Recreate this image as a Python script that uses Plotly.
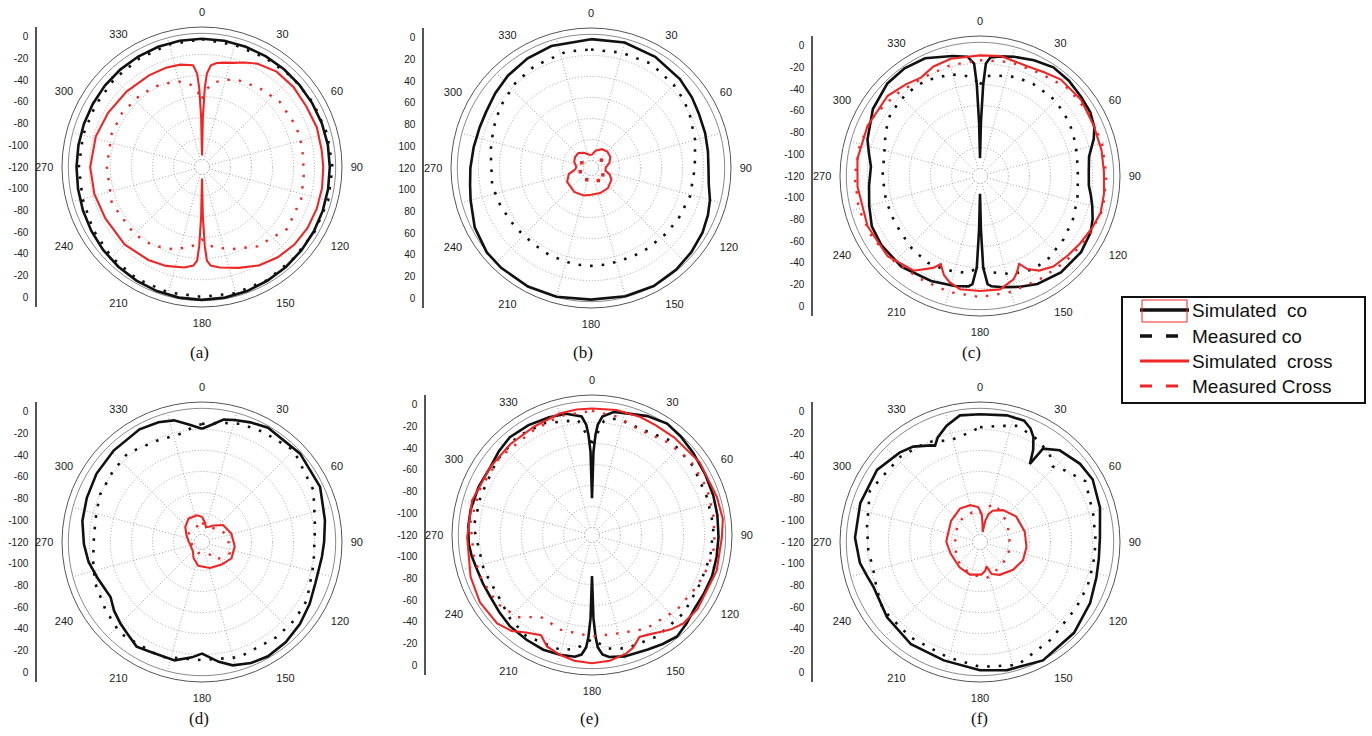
import plotly.graph_objects as go

W, H = 1372, 736
R = 140  # outer radius of every polar frame, px

# ---------------- labels ----------------
angle_ticks = list(range(0, 360, 30))
angle_labels = [str(a) for a in angle_ticks]
left_labels_neg = ["0", "-20", "-40", "-60", "-80", "-100", "-120", "-100", "-80", "-60", "-40", "-20", "0"]
left_labels_pos = ["0", "20", "40", "60", "80", "100", "120", "100", "80", "60", "40", "20", "0"]
left_labels_f = ["0", "-20", "-40", "-60", "-80", "- 100", "- 120", "- 100", "-80", "-60", "-40", "-20", "0"]
captions = ["(a)", "(b)", "(c)", "(d)", "(e)", "(f)"]
legend_names = ["Simulated\u00a0 co", "Measured co", "Simulated\u00a0 cross", "Measured Cross"]

# ---------------- data: (angle deg, level dB) ----------------
a_sim_co = [(0, -2.6), (10, -2.6), (20, -2.7), (30, -2.8), (40, -2.9), (50, -3.0), (60, -3.0), (70, -2.9),
            (80, -2.8), (90, -2.8), (100, -2.7), (110, -2.5), (120, -2.2), (130, -1.9), (140, -1.5), (150, -1.2),
            (160, -0.8), (170, -0.5), (180, -0.4), (190, -0.5), (200, -0.8), (210, -1.2), (220, -1.7), (230, -2.2),
            (240, -2.8), (250, -3.3), (260, -3.7), (270, -3.9), (280, -3.9), (290, -3.8), (300, -3.6), (310, -3.3),
            (320, -3.1), (330, -2.9), (340, -2.7), (350, -2.6)]
a_meas_co = [(0, -2.8), (15, -3.5), (30, -3.5), (45, -3.0), (60, -2.5), (75, -2.0), (90, -1.5), (105, -1.5),
             (120, -1.8), (135, -2.0), (150, -1.5), (165, -1.5), (180, -1.8), (195, -1.8), (210, -2.0), (225, -2.8),
             (240, -3.8), (255, -4.8), (270, -5.0), (285, -5.0), (300, -5.0), (315, -4.5), (330, -4.0), (345, -3.2)]
a_sim_cross = [(0, -58), (1, -40), (2, -26), (3, -19), (5, -15), (8, -13.6), (12, -12.8), (17, -11.8), (22, -10),
               (28, -7.9), (38, -6.0), (49, -5.8), (60, -6.2), (71, -5.8), (82, -6.1), (90, -5.9), (100, -5.6),
               (110, -5.5), (120, -5.6), (130, -6.2), (140, -7.5), (150, -9.5), (160, -12.5), (170, -15.0),
               (175, -16.5), (177, -19), (178, -26), (179, -40), (180, -58), (181, -40), (182, -26), (183, -19),
               (185, -16.5), (190, -15), (200, -13.5), (210, -12.5), (225, -11.5), (242, -11.5), (256, -10.8),
               (270, -10.4), (286, -11.0), (300, -12.0), (315, -12.8), (330, -13.2), (340, -13.3), (348, -13.8),
               (355, -15), (357, -19), (358, -26), (359, -40)]
a_meas_cross = [(0, -31), (4, -26), (8, -23), (15, -20.5), (23, -18.8), (36, -17.1), (50, -15.3), (65, -15),
                (73, -14.8), (84, -15.2), (95, -15.0), (108, -14), (126, -13.5), (145, -17.5), (160, -22),
                (172, -25), (180, -29), (188, -25), (200, -22), (212, -19.5), (225, -18.2), (248, -17.3),
                (270, -18.3), (290, -17.8), (304, -17.7), (319, -18.4), (333, -19.5), (345, -21.5), (352, -24),
                (356, -27)]

b_sim_co = [(0, -2.3), (15, -1.8), (30, -2.5), (45, -3.8), (55, -5.0), (63, -6.1), (73, -6.8), (82, -7.4),
            (90, -7.7), (98, -7.0), (105, -5.0), (112, -3.6), (120, -2.3), (130, -1.3), (140, -0.5), (152, 0.0),
            (165, -0.4), (180, -1.0), (195, -0.2), (208, 0.3), (222, 0.3), (231, 0.2), (243, -1.5), (255, -4.3),
            (262, -5.5), (270, -6.2), (280, -6.9), (290, -7.2), (298, -7.0), (308, -5.8), (318, -4.5), (330, -3.3),
            (342, -2.6)]
b_meas_co = [(0, -7.2), (15, -6.8), (30, -6.3), (45, -7.8), (54, -8.9), (62, -10.3), (75, -12.3), (90, -14.2),
             (106, -14.6), (120, -15.5), (131, -16.1), (145, -16.8), (155, -17), (170, -17), (180, -17), (190, -17),
             (205, -17.6), (217, -18.2), (232, -17.8), (247, -16.9), (260, -15.8), (280, -15.1), (292, -13.5),
             (304, -11.5), (318, -9.5), (331, -8.1), (348, -7.0)]
b_sim_cross = [(0, -57.5), (15, -55), (30, -53.2), (45, -52.5), (60, -52.9), (75, -54.5), (88, -56.5),
               (100, -56.5), (110, -54), (120, -52.3), (140, -51), (160, -50.8), (180, -50.8), (195, -50),
               (215, -49.6), (240, -50.4), (255, -52.6), (265, -56), (275, -56.5), (290, -55), (305, -54.3),
               (320, -54.2), (335, -55.5), (350, -57)]
b_meas_cross = [(53, -57.3), (200, -57.6), (150, -56.6), (251, -58.1), (300, -58.5), (120, -57)]

c_sim_co = [(0, -55), (1, -38), (2, -20), (3, -10), (5, -7), (10, -5.8), (16, -4.6), (25, -2.8), (34, -1.2),
            (43, -1.6), (52, -2.5), (60, -3.0), (67, -4.5), (72, -6.7), (80, -10.9), (88, -11.8), (95, -11.6),
            (100, -10), (105, -8.3), (111, -6.2), (117, -4.5), (127, -3.4), (140, -3.7), (152, -5.4), (160, -7.5),
            (168, -9.5), (174, -10.8), (176, -12), (178, -20), (179, -38), (180, -55), (181, -38), (182, -20),
            (184, -12), (186, -10.8), (193, -9.9), (205, -8.5), (221, -6.5), (235, -6.3), (245, -6.8), (255, -9),
            (265, -10.6), (275, -11.5), (282, -9.5), (288, -7.3), (302, -3.5), (315, -1.3), (325, -1.0),
            (335, -1.8), (347, -5.0), (354, -6.5), (357, -10), (358, -20), (359, -38)]
c_meas_co = [(0, -20), (4, -16), (8, -15.2), (20, -13.5), (30, -13), (42, -12.9), (52, -13.5), (61, -14.4),
             (70, -15.5), (78, -16.4), (90, -17), (103, -16), (115, -14.8), (127, -13.7), (140, -12.6),
             (150, -12.4), (162, -14.5), (172, -17.2), (180, -20), (188, -17), (200, -16), (211, -15.4),
             (223, -16.2), (235, -17.3), (245, -17.5), (256, -17.4), (270, -17.2), (284, -16.7), (295, -14),
             (305, -11.6), (318, -11), (330, -11.2), (344, -13.3), (352, -15.5), (356, -17)]
c_sim_cross = [(0, -6.2), (10, -5.7), (23, -6.7), (32, -5.5), (40, -3.7), (53, -3.4), (66, -4.4), (78, -4.5),
               (88, -4.6), (98, -4.0), (107, -3.6), (115, -4.8), (124, -6.2), (132, -7.2), (141, -8.2),
               (148, -10.5), (153, -13.9), (156, -17.8), (159, -14.5), (162, -11.9), (170, -8.8), (180, -8.9),
               (190, -8.9), (196, -11), (200, -13.4), (204, -17.7), (207, -14.5), (215, -8.6), (229, -5.4),
               (246, -5.0), (265, -5.1), (278, -4.7), (294, -5.0), (311, -5.4), (321, -7.5), (329, -9.0),
               (337, -7.0), (346, -6.1)]
c_meas_cross = [(0, -8.5), (15, -7.5), (30, -7), (45, -4.5), (60, -3.8), (75, -3.5), (90, -3.5), (105, -3.0),
                (120, -4.5), (135, -6), (150, -6.8), (165, -6.5), (180, -6.0), (195, -6.5), (210, -7.0),
                (225, -6.0), (240, -4.5), (255, -3.8), (270, -4.0), (285, -4.5), (300, -5.5), (315, -8),
                (330, -9.5), (345, -9)]

d_sim_co = [(0, -9.7), (5, -7.5), (10, -4.5), (15, -3.5), (22, -2.2), (30, -0.8), (48, -0.8), (65, -1.6),
            (80, -4.2), (90, -5.5), (97, -6.1), (110, -6.2), (120, -4.5), (130, -2.8), (140, -1.5), (150, -0.8),
            (158, -1.5), (166, -3.1), (172, -6), (180, -10.5), (185, -8.5), (193, -5.8), (205, -5.9), (212, -4.9),
            (219, -7.3), (225, -8.7), (232, -10.5), (239, -12.8), (251, -11.0), (260, -8.8), (269, -7.4),
            (280, -5.8), (291, -4.9), (303, -3.8), (316, -3.1), (331, -2.3), (340, -3.0), (347, -4.2),
            (354, -7.5)]
d_meas_co = [(0, -7.4), (10, -6), (18, -4.5), (29, -3.7), (45, -1.9), (65, -5.1), (82, -9.3), (101, -9.5),
             (119, -6.5), (130, -6.0), (142, -6.1), (162, -6.0), (180, -7.4), (200, -5.5), (222, -5.2),
             (235, -7.5), (249, -9.1), (260, -11), (273, -12.1), (285, -11.5), (295, -10.1), (308, -9.5),
             (320, -8.5), (336, -10.8), (349, -11.1), (355, -9)]
d_sim_cross = [(0, -51.5), (8, -54), (15, -56.2), (25, -55.5), (34, -54), (51, -50.7), (74, -49), (98, -47.8),
               (119, -47.5), (139, -49.3), (163, -50.6), (189, -52.1), (208, -54.9), (224, -57.3), (256, -57.8),
               (275, -57), (294, -55.4), (312, -52.8), (330, -50.7), (349, -50.6)]
d_meas_cross = [(0, -54.5), (30, -55.5), (60, -52.5), (82, -51), (112, -49.3), (141, -52.6), (150, -57),
                (200, -58), (254, -58.6), (302, -56), (330, -55.5), (353, -55.5)]

e_sim_co = [(0, -46), (1, -24), (2, -16), (3, -11), (5, -7), (10, -4.2), (16, -3.4), (25, -1.2), (34, 0.3),
            (42, -0.5), (51, -1.6), (62, -2.5), (72, -2.9), (81, -3.2), (91, -3.4), (100, -3.4), (109, -3.2),
            (118, -3.5), (126, -3.5), (133, -2), (140, -0.6), (147, -1.8), (154, -3.0), (165, -3.8), (172, -5),
            (175, -6.5), (177, -10), (178, -15), (179, -24), (180, -44), (181, -24), (182, -15), (183, -10),
            (185, -6.5), (188, -5.1), (195, -4.6), (203, -4.3), (212, -4.8), (222, -5.2), (230, -6.2), (239, -7.0),
            (246, -6.8), (253, -6.5), (260, -5.5), (266, -4.8), (274, -4.6), (282, -4.6), (293, -5.0),
            (304, -5.4), (312, -4), (320, -2.8), (330, -3.2), (340, -4.0), (348, -4.6), (355, -7), (357, -11),
            (358, -16), (359, -24)]
e_meas_co = [(0, -20), (6, -9), (12, -6.9), (26, -8), (40, -5.1), (56, -5.4), (72, -6), (86, -5.6), (100, -6.4),
             (114, -7.2), (130, -6.3), (147, -6.2), (163, -7.2), (172, -9), (180, -14), (188, -9), (195, -6.9),
             (213, -6.2), (225, -8), (235, -10.2), (252, -9.5), (274, -7.2), (289, -7.5), (308, -6.1),
             (323, -4.8), (337, -5.8), (353, -8.5)]
e_sim_cross = [(0, -3.4), (11, -3.0), (22, -2.9), (30, -3.2), (40, -2.9), (56, -1.8), (73, -1.5), (83, -0.9),
               (91, -1.8), (106, -1.9), (125, -2.3), (134, -3.1), (140, -5), (145, -7.3), (150, -9), (155, -10.1),
               (160, -6.5), (164, -4.9), (172, -3.2), (180, -2.6), (188, -3.2), (195, -4.6), (202, -6.4),
               (207, -10.1), (214, -7.6), (220, -4), (227, -1.9), (239, -1.4), (251, -2.5), (269, -4.2),
               (286, -4.2), (304, -5.4), (318, -5.5), (332, -5.1), (345, -3.8), (353, -3.4)]
e_meas_cross = [(0, -4.5), (12, -6), (23, -8.6), (39, -6.7), (53, -4.9), (68, -4.5), (81, -5.1), (95, -5.0),
                (105, -6.2), (116, -8), (131, -9.7), (150, -12.1), (164, -15), (180, -15.3), (198, -16.1),
                (212, -17.6), (222, -10.9), (234, -8), (248, -7), (260, -6.4), (276, -5.5), (292, -6.0),
                (310, -6.2), (331, -6.5), (345, -5)]

f_sim_co = [(0, -2.8), (12, -2.0), (20, -2.2), (24, -4.5), (27, -7.6), (30, -13), (32.6, -19.5), (34, -10),
            (41, -5.8), (52, -3.2), (61, -2.3), (74, -4.2), (88, -6.5), (98, -6.5), (107, -5.7), (119, -3.7),
            (134, -1.4), (152, 0.2), (168, -1.3), (180, -2.6), (197, -4.7), (214, -4.9), (231, -6.7), (247, -8.6),
            (253, -7.5), (260, -5.6), (272, -4.1), (288, -3.7), (305, -3.8), (318, -6.4), (325, -8.2),
            (333, -12), (335, -13), (338, -9.9), (344, -6), (351, -2.6)]
f_meas_co = [(0, -9), (10, -7.5), (18, -5.5), (28, -7.5), (38, -10), (44, -13.7), (50, -10.7), (60, -5.7),
             (76, -8.1), (90, -8.5), (101, -8.7), (112, -8.3), (124, -8.2), (144, -6.2), (163, -2.4), (180, -4.2),
             (196, -6.7), (216, -7.5), (235, -7.3), (245, -9.5), (255, -11.1), (266, -10.3), (278, -9.3),
             (295, -5.8), (317, -8.1), (332, -9.7), (344, -13.2), (355, -11.1)]
f_sim_cross = [(0, -48.5), (4, -50.8), (8, -55), (15, -58.6), (14, -53), (17, -49.7), (22, -47.5), (36, -44.8),
               (55, -42.5), (77, -41.7), (96, -41.3), (113, -41.3), (130, -43), (149, -45.3), (160, -47.3),
               (165, -51.5), (170, -49.5), (178, -48), (197, -47.3), (219, -48), (248, -48.5), (270, -47.5),
               (280, -47.8), (306, -46.5), (329, -45), (345, -45.4), (357, -46.9)]
f_meas_cross = [(0, -50), (19, -44.2), (35, -46), (53, -47.7), (72, -49), (96, -49.3), (117, -48.5),
                (141, -48.5), (160, -47), (170, -46.1), (190, -47.5), (208, -48.5), (232, -49.7), (256, -51.4),
                (286, -51.3), (310, -50), (327, -49.2), (345, -49)]

# ---------------- layout constants ----------------
BLACK = "#111111"
RED = "#ee2626"
R_MIN, R_MAX = -63.5, 3
GRID_DB = [-60, -50, -40, -30, -20, -10]

panels = [
    dict(center=(202, 167), axis_x=37, labels=left_labels_neg, cap=(199, 352),
         series=(a_sim_co, a_meas_co, a_sim_cross, a_meas_cross), cross_markers=False),
    dict(center=(591, 168), axis_x=424, labels=left_labels_pos, cap=(583, 352),
         series=(b_sim_co, b_meas_co, b_sim_cross, b_meas_cross), cross_markers=True),
    dict(center=(980, 176), axis_x=813, labels=left_labels_neg, cap=(971, 352),
         series=(c_sim_co, c_meas_co, c_sim_cross, c_meas_cross), cross_markers=False),
    dict(center=(202, 542), axis_x=37, labels=left_labels_neg, cap=(199, 718),
         series=(d_sim_co, d_meas_co, d_sim_cross, d_meas_cross), cross_markers=False),
    dict(center=(592, 535), axis_x=426, labels=left_labels_neg, cap=(589, 718),
         series=(e_sim_co, e_meas_co, e_sim_cross, e_meas_cross), cross_markers=False),
    dict(center=(980, 542), axis_x=813, labels=left_labels_f, cap=(979, 718),
         series=(f_sim_co, f_meas_co, f_sim_cross, f_meas_cross), cross_markers=False),
]


def px_x(x):
    return x / W


def px_y(y):
    return 1 - y / H


def closed(series):
    th = [t for t, _ in series] + [series[0][0]]
    rr = [v for _, v in series] + [series[0][1]]
    return th, rr


fig = go.Figure()
layout = dict(width=W, height=H, margin=dict(l=0, r=0, t=0, b=0), paper_bgcolor="white",
              plot_bgcolor="rgba(0,0,0,0)", showlegend=False, shapes=[], annotations=[],
              font=dict(family="Liberation Sans, Arial", color="#222222"))

spoke_angles = list(range(15, 360, 30))
ring_angles = list(range(0, 361, 3))

for i, p in enumerate(panels, start=1):
    pid = "polar" if i == 1 else f"polar{i}"
    cx, cy = p["center"]
    layout[pid] = dict(
        domain=dict(x=[px_x(cx - R), px_x(cx + R)], y=[px_y(cy + R), px_y(cy - R)]),
        hole=0, bgcolor="white",
        radialaxis=dict(range=[R_MIN, R_MAX], tickmode="array", tickvals=GRID_DB,
                        showticklabels=False, ticks="", showline=False, gridcolor="#a4a4a4",
                        griddash="1px,2px", gridwidth=1),
        angularaxis=dict(rotation=90, direction="clockwise", tickmode="array", tickvals=angle_ticks,
                         ticktext=angle_labels, showgrid=False, showline=True, linecolor="#555555",
                         linewidth=1, ticks="outside", ticklen=6, tickcolor="rgba(0,0,0,0)",
                         tickfont=dict(family="Liberation Sans, Arial", size=11, color="#1a1a1a")),
    )
    # dotted spokes and the inner solid frame ring
    th, rr = [], []
    for a in spoke_angles:
        th += [a, a, None]
        rr += [GRID_DB[0], 0, None]
    fig.add_trace(go.Scatterpolar(theta=th, r=rr, mode="lines", subplot=pid, hoverinfo="skip",
                                  line=dict(color="#a4a4a4", width=1, dash="1px,2px")))
    fig.add_trace(go.Scatterpolar(theta=ring_angles, r=[0] * len(ring_angles), mode="lines", subplot=pid,
                                  hoverinfo="skip", line=dict(color="#8a8a8a", width=1)))

    sim_co, meas_co, sim_cross, meas_cross = p["series"]
    t, v = closed(meas_co)
    fig.add_trace(go.Scatterpolar(theta=t, r=v, mode="lines", subplot=pid, name=legend_names[1],
                                  line=dict(color=BLACK, width=2.6, dash="2.6px,9px")))
    t, v = closed(sim_co)
    fig.add_trace(go.Scatterpolar(theta=t, r=v, mode="lines", subplot=pid, name=legend_names[0],
                                  line=dict(color=BLACK, width=2.6)))
    if p["cross_markers"]:
        fig.add_trace(go.Scatterpolar(theta=[a for a, _ in meas_cross], r=[b for _, b in meas_cross],
                                      mode="markers", subplot=pid, name=legend_names[3],
                                      marker=dict(color=RED, size=3.5, symbol="square")))
    else:
        t, v = closed(meas_cross)
        fig.add_trace(go.Scatterpolar(theta=t, r=v, mode="lines", subplot=pid, name=legend_names[3],
                                      line=dict(color=RED, width=2.4, dash="2.4px,9px")))
    t, v = closed(sim_cross)
    fig.add_trace(go.Scatterpolar(theta=t, r=v, mode="lines", subplot=pid, name=legend_names[2],
                                  line=dict(color=RED, width=2.1)))

    # the odd vertical scale at the left of each panel
    xa = "xaxis" if i == 1 else f"xaxis{i}"
    ya = "yaxis" if i == 1 else f"yaxis{i}"
    xref = "x" if i == 1 else f"x{i}"
    yref = "y" if i == 1 else f"y{i}"
    ax = p["axis_x"]
    layout[xa] = dict(domain=[px_x(ax), px_x(ax + 2)], anchor=yref, visible=False, range=[0, 1])
    layout[ya] = dict(domain=[px_y(cy + R), px_y(cy - R)], anchor=xref, range=[-6.45, 6.45],
                      tickmode="array", tickvals=list(range(6, -7, -1)), ticktext=p["labels"],
                      showline=True, linecolor="#555555", linewidth=1.5, showgrid=False, zeroline=False,
                      ticks="outside", ticklen=5, tickcolor="rgba(0,0,0,0)",
                      tickfont=dict(family="Liberation Sans, Arial", size=10, color="#1a1a1a"),
                      fixedrange=True)
    fig.add_trace(go.Scatter(x=[], y=[], xaxis=xref, yaxis=yref, hoverinfo="skip"))

    # caption
    layout["annotations"].append(dict(text=captions[i - 1], x=px_x(p["cap"][0]), y=px_y(p["cap"][1]),
                                      xref="paper", yref="paper", showarrow=False, xanchor="center",
                                      yanchor="middle",
                                      font=dict(family="Liberation Serif, Times New Roman", size=17,
                                                color="#111111")))

# ---------------- hand-drawn legend ----------------
layout["shapes"].append(dict(type="rect", xref="paper", yref="paper", x0=px_x(1122), x1=px_x(1365),
                             y0=px_y(403), y1=px_y(297), line=dict(color="#111111", width=2)))
row_y = [310, 336, 361, 386]
row_style = [dict(color=BLACK, width=3.5), dict(color=BLACK, width=3.5, dash="12px,14px"),
             dict(color=RED, width=3), dict(color=RED, width=3, dash="12px,14px")]
for ry, st, name in zip(row_y, row_style, legend_names):
    layout["shapes"].append(dict(type="line", xref="paper", yref="paper", x0=px_x(1140), x1=px_x(1189),
                                 y0=px_y(ry), y1=px_y(ry), line=st))
    layout["annotations"].append(dict(text=name, x=px_x(1190), y=px_y(ry), xref="paper", yref="paper",
                                      showarrow=False, xanchor="left", yanchor="middle",
                                      font=dict(family="Liberation Sans, Arial", size=19, color="#111111")))
layout["shapes"].append(dict(type="rect", xref="paper", yref="paper", x0=px_x(1142), x1=px_x(1187),
                             y0=px_y(322), y1=px_y(300), line=dict(color=RED, width=1)))

fig.update_layout(**layout)
fig.write_html("out.html", config={"displayModeBar": False},
               post_script="document.body.style.margin='0px';")
